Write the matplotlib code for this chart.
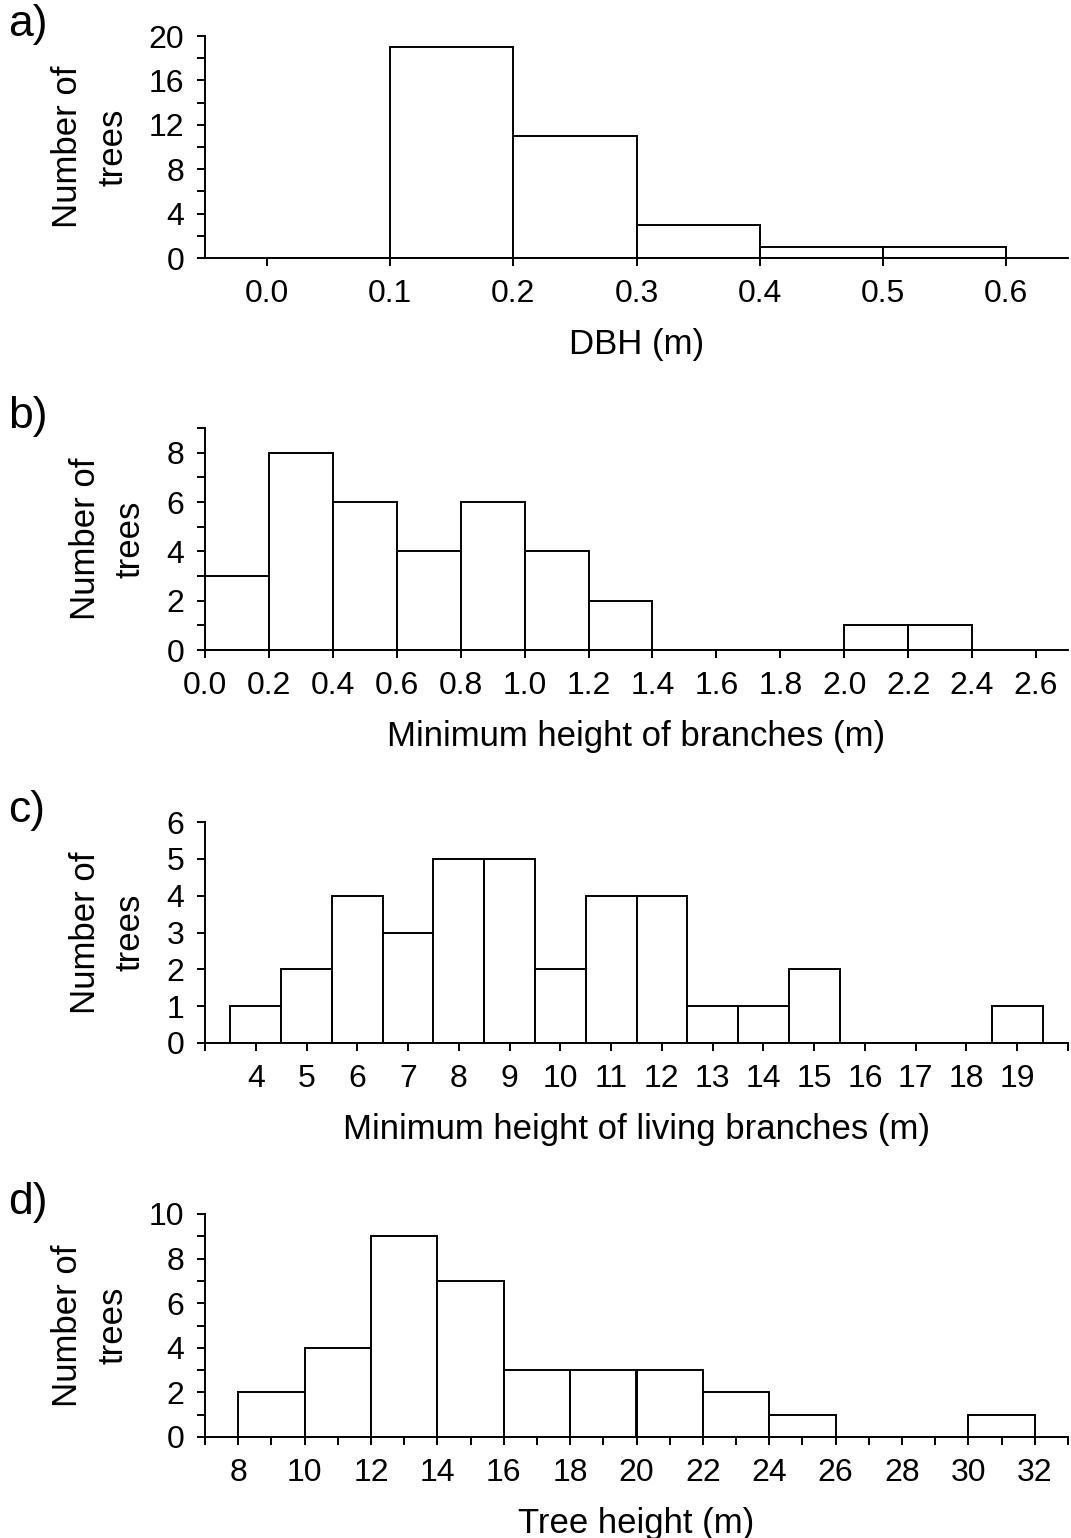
import numpy as np
import matplotlib
matplotlib.use('Agg')
import matplotlib.pyplot as plt

plt.rcParams['font.family'] = ['Liberation Sans', 'DejaVu Sans']

# a) DBH
dbh_edges = [0.0, 0.1, 0.2, 0.3, 0.4, 0.5, 0.6]
dbh_counts = [0, 19, 11, 3, 1, 1]

# b) minimum height of branches
branch_edges = [0.0, 0.2, 0.4, 0.6, 0.8, 1.0, 1.2, 1.4, 1.6, 1.8, 2.0, 2.2, 2.4]
branch_counts = [3, 8, 6, 4, 6, 4, 2, 0, 0, 0, 1, 1]

# c) minimum height of living branches (bins centred on integers)
living_centers = [4, 5, 6, 7, 8, 9, 10, 11, 12, 13, 14, 15, 16, 17, 18, 19]
living_counts = [1, 2, 4, 3, 5, 5, 2, 4, 4, 1, 1, 2, 0, 0, 0, 1]

# d) tree height
tree_edges = [8, 10, 12, 14, 16, 18, 20, 22, 24, 26, 28, 30, 32]
tree_counts = [2, 4, 9, 7, 3, 3, 3, 2, 1, 0, 0, 1]

W, H = 1071, 1538
fig = plt.figure(figsize=(W / 100, H / 100), dpi=100)

left_px, right_px = 205, 1068
panels_px = [(36, 258), (428, 650), (822, 1043), (1214, 1437)]
axes = []
for top, bot in panels_px:
    ax = fig.add_axes([left_px / W, 1 - bot / H, (right_px - left_px) / W, (bot - top) / H])
    axes.append(ax)

lw = 1.4
tick_fs = 23
label_fs = 25
bar_kw = dict(color='white', edgecolor='black', linewidth=lw)

def style(ax):
    for s in ['top', 'right']:
        ax.spines[s].set_visible(False)
    for s in ['left', 'bottom']:
        ax.spines[s].set_linewidth(lw)
    ax.tick_params(which='both', direction='out', length=6, width=lw,
                   labelsize=tick_fs, pad=9)
    ax.set_ylabel('Number of\ntrees', fontsize=label_fs, linespacing=1.47, labelpad=14)

# a
ax = axes[0]
ax.bar(dbh_edges[:-1], dbh_counts, width=np.diff(dbh_edges), align='edge', **bar_kw)
ax.set_xlim(-0.05, 0.65)
ax.set_ylim(0, 20)
ax.set_xticks(np.arange(0, 0.61, 0.1))
ax.set_xticklabels(['0.0', '0.1', '0.2', '0.3', '0.4', '0.5', '0.6'])
ax.set_yticks(range(0, 21, 4))
ax.set_yticks(range(2, 20, 4), minor=True)
ax.set_xlabel('DBH (m)', fontsize=label_fs, labelpad=14)

# b
ax = axes[1]
ax.bar(branch_edges[:-1], branch_counts, width=np.diff(branch_edges), align='edge', **bar_kw)
ax.set_xlim(0, 2.7)
ax.set_ylim(0, 9)
bt = np.round(np.arange(0, 2.61, 0.2), 1)
ax.set_xticks(bt)
ax.set_xticklabels([f'{v:.1f}' for v in bt])
ax.set_yticks(range(0, 9, 2))
ax.set_yticks(range(1, 10, 2), minor=True)
ax.set_xlabel('Minimum height of branches (m)', fontsize=label_fs, labelpad=14)

# c
ax = axes[2]
ax.bar(living_centers, living_counts, width=1, align='center', **bar_kw)
ax.set_xlim(3, 20)
ax.set_ylim(0, 6)
ax.set_xticks(range(3, 21))
ax.set_xticklabels([''] + [str(v) for v in range(4, 20)] + [''])
ax.set_yticks(range(0, 7))
ax.set_xlabel('Minimum height of living branches (m)', fontsize=label_fs, labelpad=14)

# d
ax = axes[3]
ax.bar(tree_edges[:-1], tree_counts, width=np.diff(tree_edges), align='edge', **bar_kw)
ax.set_xlim(7, 33)
ax.set_ylim(0, 10)
ax.set_xticks(range(8, 33, 2))
ax.set_xticks(range(7, 34, 2), minor=True)
ax.set_yticks(range(0, 11, 2))
ax.set_yticks(range(1, 10, 2), minor=True)
ax.set_xlabel('Tree height (m)', fontsize=label_fs, labelpad=14)

for ax in axes:
    style(ax)

for lab, (top, bot) in zip(['a)', 'b)', 'c)', 'd)'], panels_px):
    fig.text(8 / W, 1 - (top - 32) / H, lab, fontsize=32, va='top', ha='left')

fig.savefig('out.png', dpi=100)
